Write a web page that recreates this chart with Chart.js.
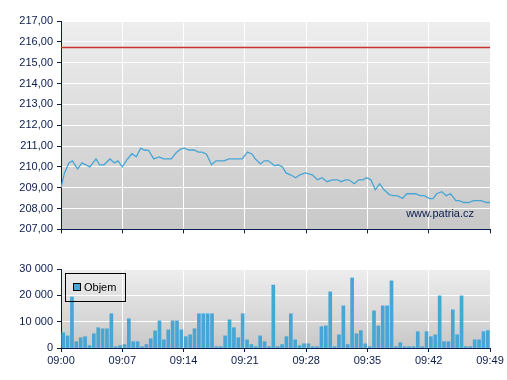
<!DOCTYPE html>
<html>
<head>
<meta charset="utf-8">
<script src="https://cdn.jsdelivr.net/npm/chart.js@4/dist/chart.umd.min.js"></script>
<style>
  body { margin: 0; background: #fff; width: 507px; height: 380px; overflow: hidden; position: relative; font-family: "Liberation Sans", Arial, sans-serif; }
  canvas { position: absolute; left: 0; }
  #price { top: 0; }
  #volume { top: 240px; }
  #watermark { position: absolute; left: 380px; width: 94px; top: 207px; text-align: right; font-size: 11px; line-height: 13px; color: #0b1d4e; }
  #legend { position: absolute; left: 65px; top: 273px; width: 61px; height: 29px; box-sizing: border-box; border: 1px solid #000; }
  #legend .sw { position: absolute; left: 7px; top: 9px; width: 8px; height: 8px; box-sizing: border-box; border: 1px solid #000; background: #47a6d5; }
  #legend .lbl { position: absolute; left: 18px; top: 7px; font-size: 11px; line-height: 13px; color: #000; }
</style>
</head>
<body>
<canvas id="price" width="507" height="240"></canvas>
<canvas id="volume" width="507" height="140"></canvas>
<div id="watermark">www.patria.cz</div>
<div id="legend"><div class="sw"></div><div class="lbl">Objem</div></div>
<script>
// minutes after 09:00
var priceTimes = [0, 0.4, 0.9, 1.3, 1.9, 2.4, 3.3, 4.0, 4.4, 4.9,
  5.6, 6.1, 6.5, 7.0, 7.6, 8.1, 8.6, 9.1, 9.5, 10.0,
  10.6, 11.2, 11.7, 12.6, 13.2, 13.7, 14.1, 14.6, 15.2, 15.7,
  16.1, 16.6, 17.2, 17.7, 18.6, 19.2, 20.7, 21.3, 21.8, 22.2,
  22.8, 23.2, 23.7, 24.4, 24.8, 25.3, 25.7, 26.2, 26.8, 27.3,
  27.9, 28.7, 29.3, 29.8, 30.4, 31.0, 31.6, 32.0, 32.5, 32.9,
  33.5, 34.0, 34.5, 34.9, 35.4, 35.9, 36.4, 36.9, 37.5, 37.9,
  38.4, 39.0, 39.5, 40.5, 41.0, 41.5, 42.1, 42.5, 42.9, 43.5,
  44.0, 44.5, 45.1, 45.5, 46.0, 46.6, 47.1, 48.0, 48.6, 49.0];
var prices = [209.00, 209.71, 210.19, 210.29, 209.90, 210.19, 210.00, 210.38, 210.10, 210.10,
  210.38, 210.19, 210.29, 210.00, 210.38, 210.63, 210.48, 210.90, 210.81, 210.79,
  210.38, 210.48, 210.38, 210.38, 210.70, 210.86, 210.90, 210.81, 210.81, 210.71,
  210.71, 210.62, 210.10, 210.29, 210.29, 210.38, 210.38, 210.71, 210.62, 210.38,
  210.14, 210.29, 210.29, 210.05, 210.10, 210.00, 209.71, 209.62, 209.48, 209.62,
  209.71, 209.62, 209.38, 209.48, 209.29, 209.38, 209.38, 209.29, 209.38, 209.38,
  209.19, 209.38, 209.38, 209.48, 209.38, 208.90, 209.19, 208.90, 208.67, 208.62,
  208.62, 208.48, 208.71, 208.71, 208.62, 208.62, 208.48, 208.48, 208.71, 208.81,
  208.62, 208.71, 208.38, 208.38, 208.29, 208.29, 208.38, 208.38, 208.29, 208.29];
var refPrice = 215.73; // previous close (red line)

// volume per 30 s interval, 09:00 .. 09:48:30
var volumes = [5800, 4600, 19400, 2400, 3900, 4300, 900, 5400, 7700, 7300,
  7300, 13000, 500, 900, 1300, 11100, 2400, 2400, 500, 1300,
  3500, 6500, 10300, 3100, 6900, 10300, 10300, 6900, 4300, 5000,
  7300, 13000, 13000, 13000, 13000, 500, 500, 4600, 10700, 7700,
  3900, 13000, 3100, 1300, 500, 4600, 2400, 500, 23900, 500,
  1300, 4300, 13000, 3100, 900, 1600, 1600, 500, 500, 8100,
  8400, 21300, 500, 5000, 16000, 1300, 26600, 5400, 6600, 1600,
  500, 14100, 8400, 16000, 16000, 25500, 500, 2000, 500, 500,
  500, 6200, 500, 6200, 4300, 5000, 19800, 2400, 2400, 14500,
  5000, 19800, 500, 500, 3100, 3100, 6200, 6600];

var navy = '#0b1d4e';
var blue = '#47a6d5';
var font = { family: '"Liberation Sans", Arial, sans-serif', size: 11 };

function timeLabel(v) {
  var m = Math.round(v);
  return '09:' + (m < 10 ? '0' + m : m);
}

// grey gradient behind the plot area
var plotBg = {
  id: 'plotBg',
  beforeDraw: function(chart) {
    var a = chart.chartArea;
    var ctx = chart.ctx;
    var g = ctx.createLinearGradient(0, a.top, 0, a.bottom);
    g.addColorStop(0, '#eeeeee');
    g.addColorStop(1, '#c8c8c8');
    ctx.save();
    ctx.fillStyle = g;
    ctx.fillRect(a.left, a.top, a.right - a.left, a.bottom - a.top);
    ctx.restore();
  }
};

function xAxis(showLabels, height) {
  return {
    type: 'linear', min: 0, max: 49, offset: false,
    border: { color: navy, width: 1 },
    grid: { color: '#ffffff', lineWidth: 1, tickColor: navy, tickLength: 4, offset: false },
    ticks: { display: showLabels, stepSize: 7, color: navy, font: font, padding: 2, maxRotation: 0, callback: timeLabel },
    afterFit: function(s) { s.height = height; }
  };
}

function yAxis(min, max, step, fmt) {
  return {
    min: min, max: max,
    border: { color: navy, width: 1 },
    grid: { color: '#ffffff', lineWidth: 1, tickColor: navy, tickLength: 4 },
    ticks: { stepSize: step, color: navy, font: font, padding: 4, callback: fmt },
    afterFit: function(s) { s.width = 61; }
  };
}

var pricePoints = [];
for (var i = 0; i < prices.length; i++) {
  pricePoints.push({ x: priceTimes[i], y: prices[i] });
}

var volPoints = [];
for (var k = 0; k < volumes.length; k++) {
  volPoints.push({ x: k * 0.5 + 0.25, y: volumes[k] });
}

new Chart(document.getElementById('price').getContext('2d'), {
  type: 'line',
  data: {
    datasets: [{
      data: [{ x: 0, y: refPrice }, { x: 49, y: refPrice }],
      borderColor: '#cc3030', borderWidth: 1.5, pointRadius: 0
    }, {
      data: pricePoints,
      borderColor: blue, borderWidth: 1.3, pointRadius: 0, tension: 0
    }]
  },
  options: {
    responsive: false, devicePixelRatio: 1, animation: false,
    layout: { padding: { top: 21, right: 17, left: 0, bottom: 0 } },
    plugins: { legend: { display: false }, tooltip: { enabled: false } },
    scales: {
      x: xAxis(false, 10),
      y: yAxis(207, 217, 1, function(v) { return v.toFixed(2).replace('.', ','); })
    }
  },
  plugins: [plotBg]
});

new Chart(document.getElementById('volume').getContext('2d'), {
  type: 'bar',
  data: {
    datasets: [{
      label: 'Objem',
      data: volPoints,
      backgroundColor: blue, borderWidth: 0, barThickness: 3
    }]
  },
  options: {
    responsive: false, devicePixelRatio: 1, animation: false,
    layout: { padding: { top: 29, right: 17, left: 0, bottom: 0 } },
    plugins: { legend: { display: false }, tooltip: { enabled: false } },
    scales: {
      x: xAxis(true, 32),
      y: yAxis(0, 30000, 10000, function(v) { return v === 0 ? '0' : (v / 1000) + ' 000'; })
    }
  },
  plugins: [plotBg]
});
</script>
</body>
</html>
